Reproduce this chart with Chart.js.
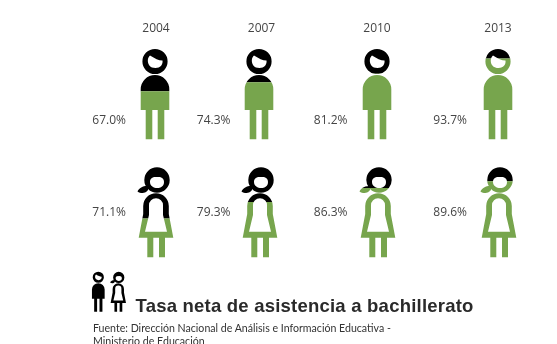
<!DOCTYPE html>
<html lang="es">
<head>
<meta charset="utf-8">
<title>Tasa neta de asistencia a bachillerato</title>
<script src="https://cdn.jsdelivr.net/npm/chart.js@4"></script>
<style>
  html, body { margin: 0; padding: 0; background: #fff; }
  body { position: relative; width: 557px; height: 344px; overflow: hidden; }
  canvas { position: absolute; top: 0; }
  .title { position: absolute; left: 135.5px; top: 295px; font: bold 18.5px/22px "Liberation Sans", sans-serif; letter-spacing: 0.22px; color: #2a2a2a; white-space: nowrap; }
  .source { position: absolute; left: 93px; top: 322px; font: 10.6px/13px Lato, sans-serif; color: #333; white-space: nowrap; }
</style>
</head>
<body>
<div id="columns"></div>
<canvas id="icons" width="60" height="50" style="left:85px;top:265px"></canvas>
<div class="title">Tasa neta de asistencia a bachillerato</div>
<div class="source">Fuente: Dirección Nacional de Análisis e Información Educativa -<br>Ministerio de Educación</div>
<script>
// Net attendance rate (%) by survey year
const years = ['2004', '2007', '2010', '2013'];
const hombres = [67.0, 74.3, 81.2, 93.7];
const mujeres = [71.1, 79.3, 86.3, 89.6];

// Layout of the four small-multiple columns
const columnCenters = [155, 259, 377, 498];
const yearShift = [1, 2.5, 0, 0];
const labelGap = [29, 28.5, 29.5, 31];
const CANVAS_W = 140, CANVAS_H = 270;
const FIGURE_TOP = { hombres: 49, mujeres: 167 };
const GREEN = '#77a54d', INK = '#000000', TEXT = '#454545';
const LABEL_Y = { hombres: 120.5, mujeres: 213 };

// Silhouettes: solids wind clockwise, holes anticlockwise (nonzero rule)
function manShape() {
  const p = new Path2D();
  p.arc(0, 12.5, 12.6, 0, Math.PI * 2);
  p.closePath();
  p.moveTo(-5, 6.5);
  p.bezierCurveTo(-8.5, 9, -8.5, 19, 0.5, 19);
  p.bezierCurveTo(6, 19, 8, 15, 7.5, 11.5);
  p.bezierCurveTo(3.5, 11.5, 0, 9.5, -5, 6.5);
  p.closePath();
  p.moveTo(-14.3, 40.3);
  p.arc(0, 40.3, 14.3, Math.PI, 0);
  p.lineTo(14.3, 61);
  p.lineTo(-14.3, 61);
  p.closePath();
  p.rect(-9.3, 60.5, 6.6, 29.8);
  p.rect(2.7, 60.5, 6.6, 29.8);
  return p;
}

function womanShape() {
  const p = new Path2D();
  p.arc(1, 13, 12.7, 0, Math.PI * 2);
  p.closePath();
  p.moveTo(1, 10);
  p.bezierCurveTo(-3, 9.5, -6, 11, -6, 15);
  p.bezierCurveTo(-6, 19, -2, 21, 1, 21);
  p.bezierCurveTo(5, 21, 8, 19, 8, 15);
  p.bezierCurveTo(8, 11, 5, 9.5, 1, 10);
  p.closePath();
  p.moveTo(-18.5, 24.5);
  p.bezierCurveTo(-17, 20.5, -12, 18.5, -8, 19);
  p.lineTo(-8, 23);
  p.bezierCurveTo(-10, 26.5, -15, 27, -18.5, 24.5);
  p.closePath();
  p.moveTo(-17.3, 70.7);
  p.lineTo(-12.8, 47);
  p.lineTo(-12.8, 39);
  p.arc(0, 39, 12.8, Math.PI, 0);
  p.lineTo(12.8, 47);
  p.lineTo(17.3, 70.7);
  p.closePath();
  p.moveTo(-11, 64.7);
  p.lineTo(11, 64.7);
  p.lineTo(7, 48);
  p.lineTo(7, 38.3);
  p.arc(0, 38.3, 7, 0, Math.PI, true);
  p.lineTo(-7, 48);
  p.closePath();
  p.rect(-8.7, 70.3, 6, 20);
  p.rect(3, 70.3, 6, 20);
  return p;
}

function placed(shape, x, y, s = 1) {
  const out = new Path2D();
  out.addPath(shape, new DOMMatrix().translate(x, y).scale(s));
  return out;
}

const SHAPES = { hombres: manShape(), mujeres: womanShape() };

// Each figure is black above its value; the bar shows through the silhouette below it
const figureFill = {
  id: 'figureFill',
  beforeDatasetsDraw(chart) {
    const { ctx, width } = chart;
    chart.$figures = ['hombres', 'mujeres'].map((key, i) => {
      const cx = chart.scales.x.getPixelForValue(0) + i;
      const path = placed(SHAPES[key], cx, FIGURE_TOP[key]);
      const level = chart.getDatasetMeta(i).data[0].y;
      ctx.save();
      ctx.beginPath();
      ctx.rect(0, 0, width, level);
      ctx.clip();
      ctx.fillStyle = INK;
      ctx.fill(path);
      ctx.restore();
      return path;
    });
  },
  beforeDatasetDraw(chart, args) {
    chart.ctx.save();
    chart.ctx.clip(chart.$figures[args.index]);
  },
  afterDatasetDraw(chart) {
    chart.ctx.restore();
  },
  afterDraw(chart, args, opts) {
    const { ctx } = chart;
    const cx = chart.scales.x.getPixelForValue(0);
    ctx.save();
    ctx.font = '12px "Open Sans", sans-serif';
    ctx.fillStyle = TEXT;
    ctx.textAlign = 'right';
    ctx.textBaseline = 'middle';
    chart.data.datasets.forEach(ds => {
      ctx.fillText(ds.data[0].toFixed(1) + '%', cx - opts.gap, LABEL_Y[ds.key]);
    });
    ctx.restore();
  }
};

years.forEach((year, i) => {
  const canvas = document.createElement('canvas');
  canvas.width = CANVAS_W;
  canvas.height = CANVAS_H;
  canvas.style.left = (columnCenters[i] - CANVAS_W / 2) + 'px';
  document.getElementById('columns').appendChild(canvas);

  new Chart(canvas, {
    type: 'bar',
    data: {
      labels: [year],
      datasets: [
        { key: 'hombres', label: 'Hombres', data: [hombres[i]], yAxisID: 'yH', backgroundColor: GREEN, grouped: false },
        { key: 'mujeres', label: 'Mujeres', data: [mujeres[i]], yAxisID: 'yM', backgroundColor: GREEN, grouped: false }
      ]
    },
    plugins: [figureFill],
    options: {
      responsive: false,
      animation: false,
      devicePixelRatio: 1,
      layout: { padding: { top: 15, bottom: 9, left: 0, right: 0 } },
      plugins: {
        legend: { display: false },
        tooltip: { enabled: false },
        figureFill: { gap: labelGap[i] }
      },
      scales: {
        x: {
          position: 'top',
          grid: { display: false, drawTicks: false },
          border: { display: false },
          afterFit(scale) { scale.height = 30; },
          ticks: { color: TEXT, font: { family: '"Open Sans"', size: 12 }, padding: 9.5, labelOffset: yearShift[i] }
        },
        // Stacked axes are laid out bottom-up: the women's row is declared first
        yM: { display: false, stack: 'rows', stackWeight: 1, min: 50.1, max: 103.6 },
        yH: { display: false, stack: 'rows', stackWeight: 1, min: 16.7, max: 104.7 }
      }
    }
  });
});

// Small key beside the title
const keyCtx = document.getElementById('icons').getContext('2d');
keyCtx.fillStyle = INK;
keyCtx.fill(placed(SHAPES.hombres, 13.3, 6.7, 0.444));
keyCtx.fill(placed(SHAPES.mujeres, 33.3, 6.7, 0.444));
</script>
</body>
</html>
